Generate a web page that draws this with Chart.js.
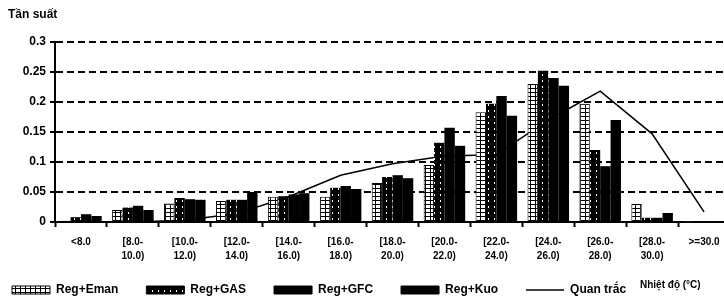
<!DOCTYPE html>
<html>
<head>
<meta charset="utf-8">
<script src="https://cdn.jsdelivr.net/npm/chart.js@4"></script>
<style>
  html, body { margin: 0; padding: 0; background: #fff; overflow: hidden; }
  #wrap { width: 740px; height: 301px; }
</style>
</head>
<body>
<div id="wrap"><canvas id="c" width="740" height="301"></canvas></div>
<script>
const categories = ['<8.0', ['[8.0-', '10.0)'], ['[10.0-', '12.0)'], ['[12.0-', '14.0)'], ['[14.0-', '16.0)'],
  ['[16.0-', '18.0)'], ['[18.0-', '20.0)'], ['[20.0-', '22.0)'], ['[22.0-', '24.0)'], ['[24.0-', '26.0)'],
  ['[26.0-', '28.0)'], ['[28.0-', '30.0)'], '>=30.0'];
const regEman = [0.002, 0.020, 0.031, 0.035, 0.042, 0.042, 0.065, 0.095, 0.183, 0.230, 0.197, 0.030, 0.001];
const regGAS  = [0.008, 0.024, 0.040, 0.037, 0.043, 0.057, 0.075, 0.132, 0.197, 0.252, 0.120, 0.007, 0.001];
const regGFC  = [0.013, 0.027, 0.038, 0.037, 0.046, 0.060, 0.078, 0.157, 0.210, 0.240, 0.093, 0.007, 0.001];
const regKuo  = [0.010, 0.020, 0.037, 0.050, 0.048, 0.055, 0.073, 0.127, 0.177, 0.227, 0.170, 0.015, 0.001];
const quanTrac = [0, 0, 0.003, 0.014, 0.042, 0.078, 0.097, 0.110, 0.112, 0.170, 0.218, 0.147, 0.017];
const yTicks = [0, 0.05, 0.1, 0.15, 0.2, 0.25, 0.3];

function makePattern(w, h, draw) {
  const c = document.createElement('canvas');
  c.width = w; c.height = h;
  const g = c.getContext('2d');
  draw(g);
  return document.getElementById('c').getContext('2d').createPattern(c, 'repeat');
}
// white ladder cells for Reg+Eman
const emanFill = makePattern(5, 4, g => {
  g.fillStyle = '#fff'; g.fillRect(0, 0, 5, 4);
  g.fillStyle = '#000'; g.fillRect(0, 0, 5, 1); g.fillRect(0, 0, 1, 4);
});
// black with sparse white dots for Reg+GAS
const gasFill = makePattern(6, 6, g => {
  g.fillStyle = '#000'; g.fillRect(0, 0, 6, 6);
  g.fillStyle = '#fff'; g.fillRect(2, 2, 1, 2);
});

const FONT = '"Liberation Sans", Arial, sans-serif';
const LEGEND_PAD = 28;

// legend sits higher, overlapping the bottom of the tick label band
const legendShift = {
  id: 'legendShift',
  afterLayout(chart) {
    chart.legend.top -= 15;
    chart.legend.bottom -= 15;
  }
};

// axis titles: "Tần suất" top-left, "Nhiệt độ (°C)" at the right of the legend row
const axisTitles = {
  id: 'axisTitles',
  afterDraw(chart) {
    const ctx = chart.ctx;
    ctx.save();
    ctx.fillStyle = '#000';
    ctx.textBaseline = 'middle';
    ctx.font = 'bold 12px ' + FONT;
    ctx.fillText('Tần suất', 8, 15);
    ctx.font = 'bold 10px ' + FONT;
    ctx.fillText('Nhiệt độ (°C)', chart.scales.x.right - 90, chart.legend.top + LEGEND_PAD + 1);
    ctx.restore();
  }
};

const font = { family: FONT, weight: 'bold' };

new Chart(document.getElementById('c'), {
  data: {
    labels: categories,
    datasets: [
      { type: 'bar', label: 'Reg+Eman', data: regEman, backgroundColor: emanFill, borderColor: '#000', borderWidth: 1, order: 0 },
      { type: 'bar', label: 'Reg+GAS', data: regGAS, backgroundColor: gasFill, borderColor: '#000', borderWidth: 0, order: 0 },
      { type: 'bar', label: 'Reg+GFC', data: regGFC, backgroundColor: '#000', borderWidth: 0, order: 0 },
      { type: 'bar', label: 'Reg+Kuo', data: regKuo, backgroundColor: '#000', borderWidth: 0, order: 0 },
      { type: 'line', label: 'Quan trắc', data: quanTrac, borderColor: '#000', backgroundColor: '#000',
        borderWidth: 1.5, pointRadius: 0, tension: 0, fill: false, order: 1 }
    ]
  },
  options: {
    responsive: false,
    animation: false,
    categoryPercentage: 0.8,
    barPercentage: 1.0,
    layout: { padding: { left: -16, right: 10, top: 42, bottom: -20 } },
    plugins: {
      tooltip: { enabled: false },
      title: { display: false },
      legend: {
        position: 'bottom', align: 'start',
        labels: {
          color: '#000', font: { ...font, size: 12 }, padding: LEGEND_PAD,
          boxWidth: 38, boxHeight: 8, usePointStyle: true, pointStyleWidth: 38,
          generateLabels(chart) {
            return chart.data.datasets.map((ds, i) => ({
              text: ds.label,
              fillStyle: ds.type === 'line' ? '#000' : ds.backgroundColor,
              strokeStyle: '#000',
              lineWidth: ds.type === 'line' ? 1.5 : 1,
              pointStyle: ds.type === 'line' ? 'line' : 'rect',
              fontColor: '#000',
              hidden: false,
              datasetIndex: i
            }));
          }
        }
      }
    },
    scales: {
      x: {
        offset: true,
        grid: { offset: true, drawOnChartArea: false, drawTicks: true, tickLength: 5, tickColor: '#000', tickWidth: 2 },
        border: { display: true, color: '#000', width: 2 },
        ticks: { color: '#000', font: { ...font, size: 10, lineHeight: 1.4 }, maxRotation: 0, autoSkip: false, padding: 8 }
      },
      y: {
        min: 0, max: 0.3,
        afterFit(scale) { scale.width = 71; },
        afterBuildTicks(scale) { scale.ticks = yTicks.map(v => ({ value: v })); },
        grid: { color: '#000', lineWidth: 2, tickLength: 5, tickColor: '#000', tickWidth: 2 },
        border: { display: true, color: '#000', width: 2, dash: [7, 4] },
        ticks: { color: '#000', font: { ...font, size: 12 }, padding: 4,
          callback: v => String(+v.toFixed(2)) }
      }
    }
  },
  plugins: [legendShift, axisTitles]
});
</script>
</body>
</html>
